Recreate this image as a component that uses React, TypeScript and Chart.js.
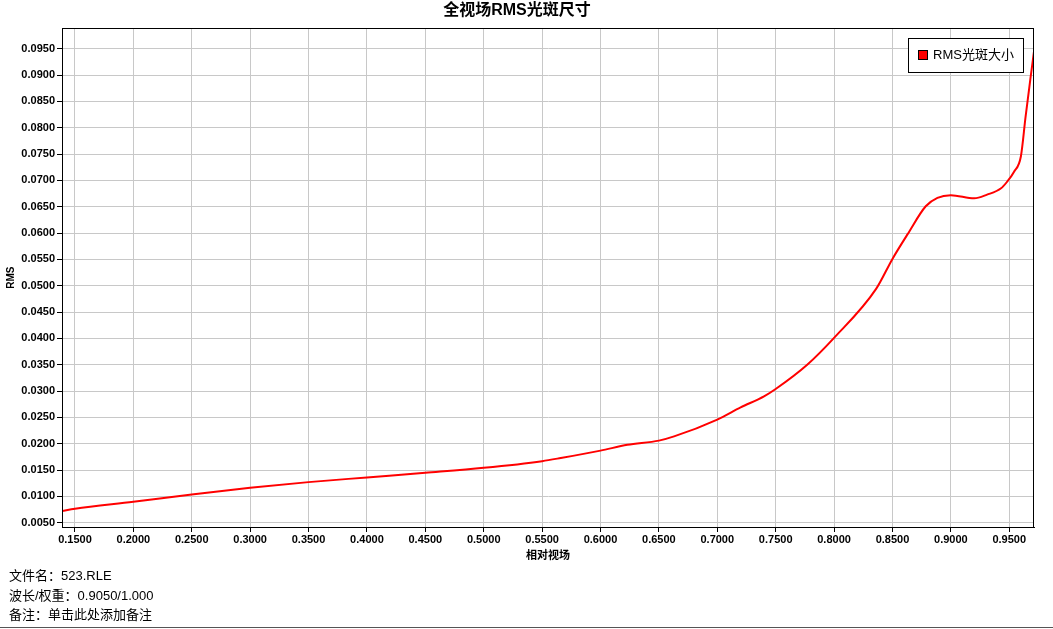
import React, { useEffect, useRef } from "react";
import { Chart, registerables } from "chart.js";

Chart.register(...registerables);

const fieldValues = [
  0.1389, 0.15, 0.2, 0.25, 0.3, 0.35, 0.4, 0.45, 0.5, 0.55, 0.566, 0.6, 0.623, 0.65, 0.663,
  0.7, 0.72, 0.74, 0.75, 0.777, 0.8, 0.836, 0.85, 0.863, 0.8785, 0.8885, 0.9, 0.92,
  0.931, 0.943, 0.948, 0.954, 0.96, 0.964, 0.968, 0.9712,
];
const rmsValues = [
  0.00722, 0.00766, 0.00898, 0.01039, 0.01164, 0.01272, 0.01361, 0.01449, 0.01543, 0.0167,
  0.0173, 0.0187, 0.0198, 0.0206, 0.0214, 0.0246, 0.0269, 0.029, 0.0304, 0.035, 0.0401,
  0.0494, 0.0551, 0.0598, 0.0651, 0.0667, 0.0672, 0.0666, 0.0673, 0.0685, 0.0697,
  0.0716, 0.0746, 0.0821, 0.0891, 0.0945,
];
const xTickValues = [
  0.15, 0.2, 0.25, 0.3, 0.35, 0.4, 0.45, 0.5, 0.55, 0.6, 0.65, 0.7, 0.75, 0.8, 0.85, 0.9, 0.95,
];
const yTickValues = [
  0.005, 0.01, 0.015, 0.02, 0.025, 0.03, 0.035, 0.04, 0.045, 0.05, 0.055, 0.06, 0.065, 0.07,
  0.075, 0.08, 0.085, 0.09, 0.095,
];
const chartTitle = "全视场RMS光斑尺寸";
const seriesName = "RMS光斑大小";
const xTitle = "相对视场";
const yTitle = "RMS";
const infoLines = ["文件名：523.RLE", "波长/权重：0.9050/1.000", "备注：单击此处添加备注"];

const FONT = '"Liberation Sans", Arial, "Noto Sans CJK SC", sans-serif';

const framePlugin = {
  id: "frame",
  afterDraw(chart: any) {
    const { ctx, chartArea } = chart;
    const { left, top, right, bottom } = chartArea;
    ctx.save();
    ctx.strokeStyle = "#000";
    ctx.lineWidth = 1;
    ctx.strokeRect(Math.round(left) + 0.5, Math.round(top) + 0.5, Math.round(right - left) - 1, Math.round(bottom - top));
    // legend
    const w = 115;
    const h = 34;
    const lx = Math.round(right) - 11 - w;
    const ly = Math.round(top) + 10;
    ctx.fillStyle = "#fff";
    ctx.fillRect(lx, ly, w, h);
    ctx.strokeRect(lx + 0.5, ly + 0.5, w, h);
    ctx.fillStyle = "#ff0000";
    ctx.fillRect(lx + 10, ly + 12, 10, 10);
    ctx.strokeRect(lx + 10.5, ly + 12.5, 9, 9);
    ctx.fillStyle = "#000";
    ctx.font = `13px ${FONT}`;
    ctx.textAlign = "left";
    ctx.textBaseline = "middle";
    ctx.fillText(seriesName, lx + 25, ly + 17.5);
    ctx.restore();
  },
};

export default function App() {
  const ref = useRef<HTMLCanvasElement | null>(null);

  useEffect(() => {
    if (!ref.current) return;
    const chart = new Chart(ref.current, {
      type: "line",
      data: {
        datasets: [
          {
            label: seriesName,
            data: fieldValues.map((x, i) => ({ x, y: rmsValues[i] })),
            borderColor: "#ff0000",
            backgroundColor: "#ff0000",
            borderWidth: 2,
            pointRadius: 0,
            cubicInterpolationMode: "monotone",
            fill: false,
          },
        ],
      },
      options: {
        animation: false,
        responsive: false,
        maintainAspectRatio: false,
        layout: { padding: { left: 0, right: 19, top: 0, bottom: 0 } },
        plugins: {
          legend: { display: false },
          tooltip: { enabled: false },
          title: {
            display: true,
            text: chartTitle,
            color: "#000",
            font: { family: FONT, size: 16, weight: "bold" },
            padding: { top: 1, bottom: 8 },
          },
        },
        scales: {
          x: {
            type: "linear",
            min: 0.1389,
            max: 0.9712,
            afterBuildTicks: (scale: any) => {
              scale.ticks = xTickValues.map((v) => ({ value: v }));
            },
            afterFit: (scale: any) => {
              scale.height = 43;
            },
            ticks: {
              color: "#000",
              padding: 1,
              maxRotation: 0,
              autoSkip: false,
              font: { family: FONT, size: 11, weight: "bold" },
              callback: (v: any) => Number(v).toFixed(4),
            },
            grid: { color: "#c8c8c8", lineWidth: 1, tickLength: 5, tickColor: "#000" },
            border: { color: "#000", width: 1 },
            title: {
              display: true,
              text: xTitle,
              color: "#000",
              font: { family: FONT, size: 11, weight: "bold" },
              padding: { top: 0, bottom: 7 },
            },
          },
          y: {
            type: "linear",
            min: 0.0042,
            max: 0.0989,
            afterBuildTicks: (scale: any) => {
              scale.ticks = yTickValues.map((v) => ({ value: v }));
            },
            afterFit: (scale: any) => {
              scale.width = 62;
            },
            ticks: {
              color: "#000",
              padding: 2,
              autoSkip: false,
              font: { family: FONT, size: 11, weight: "bold" },
              callback: (v: any) => Number(v).toFixed(4),
            },
            grid: { color: "#c8c8c8", lineWidth: 1, tickLength: 5, tickColor: "#000" },
            border: { color: "#000", width: 1 },
            title: {
              display: true,
              text: yTitle,
              color: "#000",
              font: { family: FONT, size: 10, weight: "bold" },
              padding: { top: 5, bottom: 0 },
            },
          },
        },
      },
      plugins: [framePlugin],
    } as any);
    return () => chart.destroy();
  }, []);

  return (
    <div
      style={{
        position: "absolute",
        left: 0,
        top: 0,
        width: 1053,
        height: 629,
        background: "#fff",
        overflow: "hidden",
      }}
    >
      <canvas ref={ref} width={1053} height={570} style={{ position: "absolute", left: 0, top: 0 }} />
      <div
        style={{
          position: "absolute",
          left: 9,
          top: 566,
          fontFamily: FONT,
          fontSize: 13,
          lineHeight: "19.5px",
          color: "#000",
          whiteSpace: "nowrap",
        }}
      >
        {infoLines.map((t, i) => (
          <div key={i}>{t}</div>
        ))}
      </div>
      <div
        style={{
          position: "absolute",
          left: 0,
          top: 627,
          width: 1053,
          height: 0,
          borderTop: "1px solid #555",
        }}
      />
    </div>
  );
}
